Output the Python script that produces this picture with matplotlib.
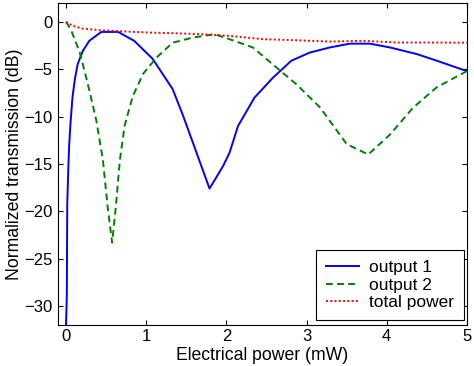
import numpy as np
import matplotlib
matplotlib.use("Agg")
import matplotlib.pyplot as plt

plt.rcParams['font.family'] = ['Liberation Sans', 'DejaVu Sans']

# output 1 (azul)
x_out1 = [0.0, 0.01, 0.015, 0.03, 0.04, 0.055, 0.08, 0.11, 0.145, 0.21, 0.29, 0.44, 0.65,
          0.85, 1.08, 1.33, 1.46, 1.79, 1.96, 2.04, 2.145, 2.35, 2.58, 2.81, 3.04, 3.29,
          3.54, 3.79, 4.04, 4.375, 4.625, 5.0]
y_out1 = [-31.9, -28.8, -19.3, -15.0, -12.9, -10.8, -8.0, -6.05, -4.47, -3.06, -2.0, -1.06, -1.06,
          -2.0, -3.9, -7.1, -9.9, -17.6, -15.2, -13.8, -11.0, -8.0, -5.9, -4.1, -3.24, -2.7,
          -2.3, -2.3, -2.7, -3.4, -4.1, -5.2]

# output 2 (verde)
x_out2 = [0.0, 0.06, 0.17, 0.27, 0.375, 0.46, 0.52, 0.575, 0.625, 0.67, 0.73, 0.83, 0.96,
          1.125, 1.33, 1.58, 1.85, 2.04, 2.33, 2.58, 2.875, 3.17, 3.5, 3.77, 4.04, 4.33,
          4.625, 5.0]
y_out2 = [0.0, -0.8, -3.2, -6.5, -10.3, -14.6, -19.6, -23.3, -19.2, -14.7, -11.0, -7.9, -5.5,
          -3.8, -2.2, -1.66, -1.3, -1.83, -2.7, -4.5, -6.6, -9.05, -12.9, -14.0, -11.9, -9.05,
          -6.9, -5.2]

# total power (rojo)
x_total = [0.0, 0.08, 0.2, 0.42, 0.7, 1.04, 1.35, 1.67, 2.04, 2.46, 2.875, 3.29, 3.71,
           4.125, 4.54, 5.0]
y_total = [0.0, -0.4, -0.7, -0.88, -1.0, -1.13, -1.2, -1.3, -1.48, -1.83, -1.94, -2.08, -2.0,
           -2.18, -2.18, -2.2]

xticks = [0, 1, 2, 3, 4, 5]
yticks = [0, -5, -10, -15, -20, -25, -30]

fs = 12.5

fig = plt.figure(figsize=(4.74, 3.66), dpi=100)
ax = fig.add_axes([0.1224, 0.112, 0.8626, 0.880])

ax.plot(x_out1, y_out1, color='#0000ff', lw=1.4, label='output 1')
ax.plot(x_out2, y_out2, color='#008000', lw=1.4, ls=(0, (3.5, 2.2)), label='output 2')
ax.plot(x_total, y_total, color='#ff0000', lw=1.4, ls=(0, (1, 1.2)), label='total power')

ax.set_xlim(-0.1, 5)
ax.set_ylim(-32, 2)
ax.set_xticks(xticks)
ax.set_yticks(yticks)
ax.tick_params(direction='in', top=True, right=True, length=3.5, labelsize=12, width=0.8)
ax.tick_params(axis='x', pad=3)
ax.tick_params(axis='y', pad=4)
for s in ax.spines.values():
    s.set_linewidth(0.8)

ax.set_xlabel("Electrical power (mW)", fontsize=12.7, labelpad=2)
ax.set_ylabel("Normalized transmission (dB)", fontsize=12.7, labelpad=0.5)

leg = ax.legend(loc='lower right', bbox_to_anchor=(0.993, 0.0155), borderaxespad=0,
                fancybox=False, edgecolor='black', framealpha=1, fontsize=fs,
                handlelength=1.9, handletextpad=0.63, labelspacing=0.15, borderpad=0.55)
leg.get_frame().set_linewidth(0.8)

fig.savefig("out.png", dpi=100)
